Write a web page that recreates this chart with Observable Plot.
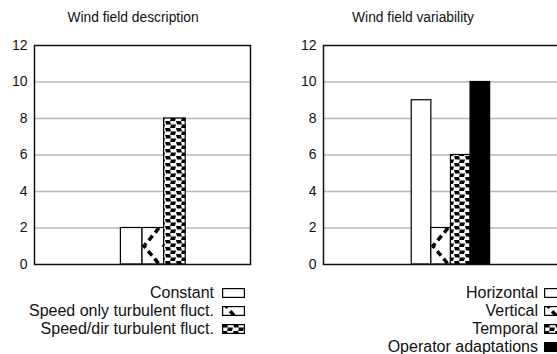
<!DOCTYPE html>
<html>
<head>
<meta charset="utf-8">
<script src="https://cdn.jsdelivr.net/npm/d3@7"></script>
<script src="https://cdn.jsdelivr.net/npm/@observablehq/plot@0.6"></script>
<style>
  html, body { margin: 0; padding: 0; background: #fff; overflow: hidden; }
  #root { position: relative; width: 557px; height: 354px; overflow: hidden;
          font-family: "Liberation Sans", Arial, sans-serif; color: #111; }
  .title { position: absolute; top: 10px; font-size: 13.8px; transform: translateX(-50%); white-space: nowrap; }
  .panel { position: absolute; top: 30px; }
  .panel text { font-size: 14px; fill: #111; }
  .legend { position: absolute; top: 284px; font-size: 16px; }
  .legend .row { display: flex; justify-content: flex-end; align-items: center; height: 18px; white-space: nowrap; }
  .legend svg { overflow: visible; }
</style>
</head>
<body>
<div id="root">
  <svg width="0" height="0" style="position:absolute">
    <defs>
      <pattern id="zig" patternUnits="userSpaceOnUse" x="0" y="18" width="20" height="36">
        <rect width="20" height="36" fill="white"/>
        <polyline points="19,0 4,18 19,36" fill="none" stroke="black" stroke-width="3.5" stroke-dasharray="6,4"/>
      </pattern>
      <pattern id="check" patternUnits="userSpaceOnUse" width="11" height="7">
        <rect width="11" height="7" fill="white"/>
        <polygon points="0,0 5,0 6,3.5 1,3.5" fill="black"/>
        <polygon points="6,3.5 11,3.5 10,7 5,7" fill="black"/>
      </pattern>
    </defs>
  </svg>
</div>
<script>
// Wind field description
const descCategories = ["Constant", "Speed only turbulent fluct.", "Speed/dir turbulent fluct."];
const descValues = [2, 2, 8];
// Wind field variability
const varCategories = ["Horizontal", "Vertical", "Temporal", "Operator adaptations"];
const varValues = [9, 2, 6, 10];
// Shared y ticks and fills
const yTicks = [0, 2, 4, 6, 8, 10, 12];
const gridTicks = [2, 4, 6, 8, 10];
const descFills = ["white", "url(#zig)", "url(#check)"];
const varFills = ["white", "url(#zig)", "url(#check)", "black"];

const root = document.getElementById("root");

function panel({cats, values, fills, title, left, width, marginRight, xMax, firstSlot, titleX, legendRight, swatchGap}) {
  const data = cats.map((c, i) => ({cat: c, value: values[i], slot: firstSlot + i}));
  const chart = Plot.plot({
    width, height: 250,
    marginLeft: 34, marginRight, marginTop: 15, marginBottom: 16,
    style: {fontFamily: "Liberation Sans, Arial, sans-serif", fontSize: "14px", color: "#111", background: "transparent"},
    x: {domain: [0, xMax], axis: null},
    y: {domain: [0, 12]},
    color: {type: "ordinal", domain: cats, range: fills},
    marks: [
      Plot.ruleY(gridTicks, {stroke: "#b8b8b8", strokeWidth: 1.5}),
      Plot.rectY(data, {x1: "slot", x2: d => d.slot + 1, y: "value", fill: "cat", stroke: "black", strokeWidth: 1.2}),
      Plot.axisY({ticks: yTicks, tickSize: 0, tickPadding: 7, label: null}),
      Plot.frame({stroke: "#111", strokeWidth: 1.5})
    ]
  });
  chart.classList.add("panel");
  chart.style.left = left + "px";
  root.appendChild(chart);

  const t = document.createElement("div");
  t.className = "title";
  t.style.left = titleX + "px";
  t.textContent = title;
  root.appendChild(t);

  const lg = document.createElement("div");
  lg.className = "legend";
  lg.style.right = (557 - legendRight) + "px";
  cats.forEach((c, i) => {
    const row = document.createElement("div");
    row.className = "row";
    const s = document.createElement("span");
    s.textContent = c;
    row.appendChild(s);
    const sw = d3.create("svg").attr("width", 23).attr("height", 10).style("margin-left", swatchGap + "px");
    sw.append("rect").attr("x", 0.6).attr("y", 0.6).attr("width", 21.8).attr("height", 8.8)
      .attr("fill", fills[i]).attr("stroke", "black").attr("stroke-width", 1.2);
    row.appendChild(sw.node());
    lg.appendChild(row);
  });
  root.appendChild(lg);
}

panel({cats: descCategories, values: descValues, fills: descFills, title: "Wind field description",
       left: 0, width: 270, marginRight: 20, xMax: 10, firstSlot: 4, titleX: 133, legendRight: 245, swatchGap: 8});
panel({cats: varCategories, values: varValues, fills: varFills, title: "Wind field variability",
       left: 289, width: 300, marginRight: 17, xMax: 12.7, firstSlot: 4.5, titleX: 413, legendRight: 567, swatchGap: 6});
</script>
</body>
</html>
